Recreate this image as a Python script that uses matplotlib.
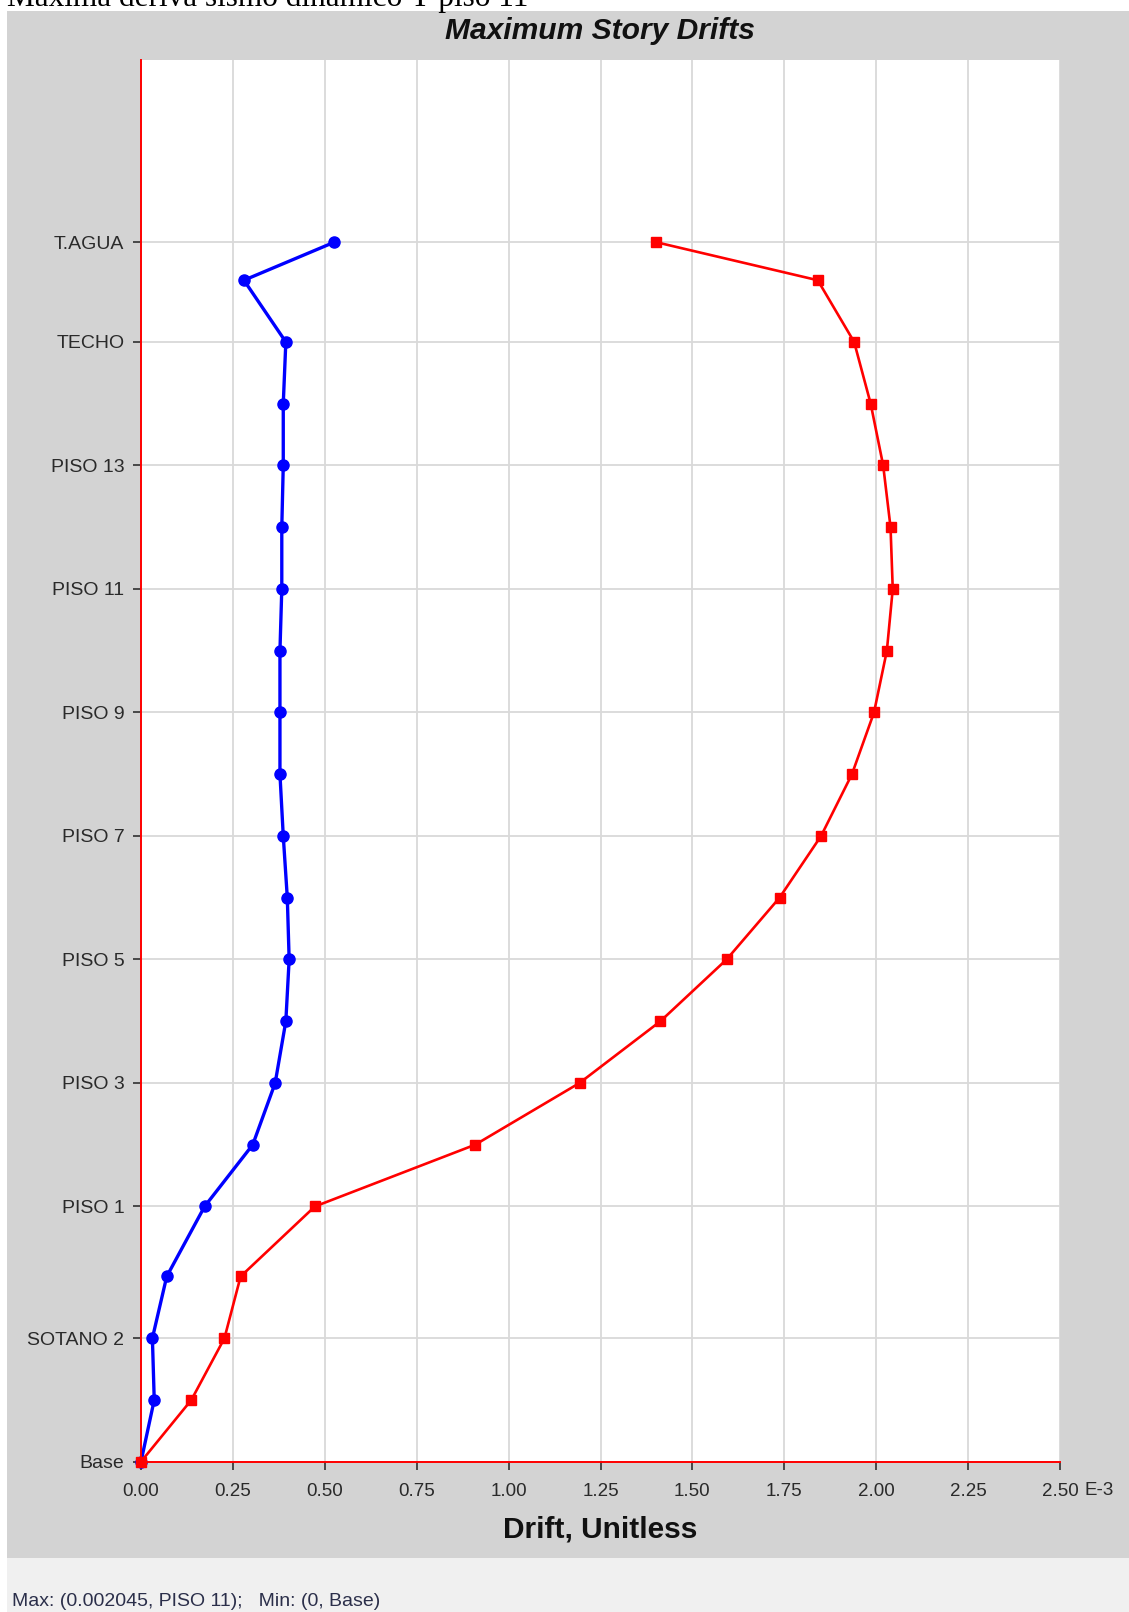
import numpy as np
import matplotlib
matplotlib.use("Agg")
import matplotlib.pyplot as plt
from matplotlib.patches import Rectangle

# ---------------- data ----------------
stories = ["Base", "SOTANO 3", "SOTANO 2", "SOTANO 1", "PISO 1", "PISO 2", "PISO 3",
           "PISO 4", "PISO 5", "PISO 6", "PISO 7", "PISO 8", "PISO 9", "PISO 10",
           "PISO 11", "PISO 12", "PISO 13", "PISO 14", "TECHO", "AZOTEA", "T.AGUA"]
story_heights = [0.0, 3.0, 3.0, 3.0, 3.4, 3.0, 3.0, 3.0, 3.0, 3.0, 3.0, 3.0, 3.0, 3.0,
                 3.0, 3.0, 3.0, 3.0, 3.0, 3.0, 1.85]
# drifts in units of 1E-3
drift_x = [0.0, 0.036, 0.031, 0.070, 0.173, 0.304, 0.365, 0.394, 0.403, 0.398, 0.387,
           0.378, 0.378, 0.378, 0.383, 0.383, 0.387, 0.387, 0.394, 0.280, 0.526]
drift_y = [0.0, 0.137, 0.227, 0.271, 0.473, 0.909, 1.193, 1.413, 1.593, 1.737, 1.850,
           1.934, 1.994, 2.029, 2.045, 2.039, 2.019, 1.985, 1.940, 1.841, 1.401]
labeled_stories = ["Base", "SOTANO 2", "PISO 1", "PISO 3", "PISO 5", "PISO 7", "PISO 9",
                   "PISO 11", "PISO 13", "TECHO", "T.AGUA"]
x_ticks = [0.0, 0.25, 0.5, 0.75, 1.0, 1.25, 1.5, 1.75, 2.0, 2.25, 2.5]
x_tick_labels = ["0.00", "0.25", "0.50", "0.75", "1.00", "1.25", "1.50", "1.75", "2.00", "2.25", "2.50"]

elev = np.cumsum(story_heights)
elev_of = dict(zip(stories, elev))

# ---------------- figure ----------------
W, H = 1129, 1612
fig = plt.figure(figsize=(W / 100, H / 100), dpi=100)
fig.patch.set_facecolor("white")

def fx(px):
    return px / W

def fy(py):
    return 1 - py / H

# grey panel and bottom status strip
fig.patches.append(Rectangle((fx(7), fy(1558)), 1 - fx(7), fy(11) - fy(1558),
                             transform=fig.transFigure, facecolor="#d3d3d3",
                             edgecolor="none", zorder=-10))
fig.patches.append(Rectangle((fx(7), 0), 1 - fx(7), fy(1558),
                             transform=fig.transFigure, facecolor="#f0f0f0",
                             edgecolor="none", zorder=-10))

# clipped caption at the top (only its lower part is visible, as in the source)
fig.text(fx(7), fy(6), "Maxima deriva sismo dinamico Y piso 11",
         family="Liberation Serif", fontsize=22.5, ha="left", va="baseline", color="black")

left, right, top, bottom = 141, 1060, 60, 1461.7
ax = fig.add_axes([fx(left), fy(bottom), fx(right) - fx(left), fy(top) - fy(bottom)])
ax.set_facecolor("white")

ax.plot(drift_x, elev, color="#0000ff", lw=2.4, marker="o", ms=8,
        markeredgecolor="#0000ff", markerfacecolor="#0000ff", zorder=3, clip_on=False)
ax.plot(drift_y, elev, color="#ff0000", lw=1.9, marker="s", ms=6.8,
        markeredgecolor="#ff0000", markerfacecolor="#ff0000", zorder=4, clip_on=False)

ax.set_xlim(0, 2.5)
ax.set_ylim(0, 68.1)

ax.set_xticks(x_ticks)
ax.set_xticklabels(x_tick_labels)
ax.set_yticks([elev_of[s] for s in labeled_stories])
ax.set_yticklabels(labeled_stories)

for s in ["top", "right"]:
    ax.spines[s].set_visible(False)
for s in ["left", "bottom"]:
    ax.spines[s].set_color("#ff0000")
    ax.spines[s].set_linewidth(1.4)
    ax.spines[s].set_zorder(5)

ax.grid(True, color="#d9d9d9", lw=1.3, zorder=0)
ax.set_axisbelow(True)

ax.tick_params(axis="both", direction="out", length=6, width=1.1, color="#222222",
               labelcolor="#2a2a2a")
ax.tick_params(axis="x", pad=9, labelsize=13.5)
ax.tick_params(axis="y", pad=6, labelsize=14)
for lab in ax.get_xticklabels() + ax.get_yticklabels():
    lab.set_family("Liberation Sans")

ax.annotate("E-3", xy=(2.5, 0), xycoords=("data", "axes fraction"),
            xytext=(24, -29), textcoords="offset pixels", ha="left", va="center",
            fontsize=13.5, family="Liberation Sans", color="#2a2a2a", annotation_clip=False)

fig.text(fx(600), fy(31), "Maximum Story Drifts", ha="center", va="center",
         family="Liberation Sans", fontsize=21.6, fontweight="bold", style="italic",
         color="#111111")
fig.text(fx(600), fy(1529), "Drift, Unitless", ha="center", va="center",
         family="Liberation Sans", fontsize=21.5, fontweight="bold", color="#111111")

fig.text(fx(12), fy(1601), "Max: (0.002045, PISO 11);   Min: (0, Base)",
         ha="left", va="center", family="Liberation Sans", fontsize=14, color="#2b2f4a")

fig.savefig("out.png", dpi=100, facecolor=fig.get_facecolor())
